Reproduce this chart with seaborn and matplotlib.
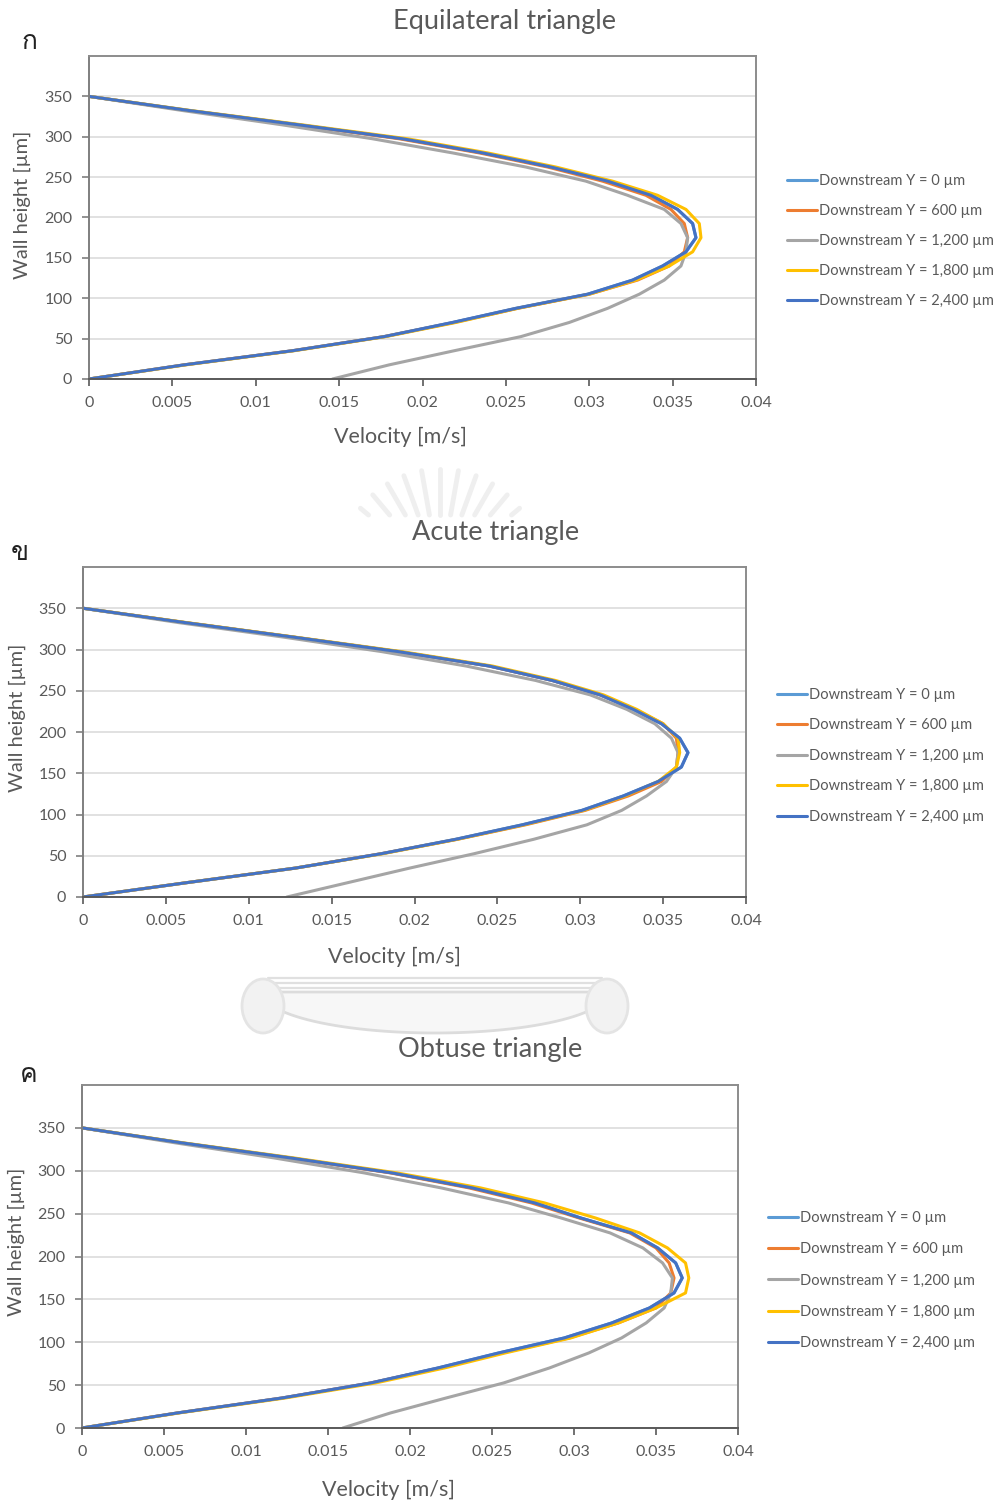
import numpy as np
import pandas as pd
import matplotlib
matplotlib.use("Agg")
import matplotlib.pyplot as plt
from matplotlib import font_manager
from matplotlib.ft2font import FT2Font
from matplotlib.patches import Ellipse, Polygon
from matplotlib.lines import Line2D
import seaborn as sns

# ---- data -------------------------------------------------------------
heights = [0, 17.5, 35, 52.5, 70, 87.5, 105, 122.5, 140, 157.5, 175,
           192.5, 210, 227.5, 245, 262.5, 280, 297.5, 315, 332.5, 350]

series_labels = ["Downstream Y = 0 \u00b5m", "Downstream Y = 600 \u00b5m",
                 "Downstream Y = 1,200 \u00b5m", "Downstream Y = 1,800 \u00b5m",
                 "Downstream Y = 2,400 \u00b5m"]

# Equilateral triangle
eq_y0 = [0, 0.0057, 0.0122, 0.0177, 0.0218, 0.0256, 0.0299, 0.0326, 0.0344, 0.0358, 0.0364,
         0.0362, 0.0353, 0.0337, 0.0311, 0.0277, 0.0236, 0.0188, 0.0125, 0.0060, 0]
eq_y600 = [0, 0.0057, 0.0122, 0.0177, 0.0219, 0.0257, 0.0300, 0.0329, 0.0348, 0.0357, 0.0359,
           0.0357, 0.0349, 0.0334, 0.0308, 0.0275, 0.0234, 0.0186, 0.0124, 0.0059, 0]
eq_y1200 = [0.0146, 0.0180, 0.0219, 0.0259, 0.0288, 0.0311, 0.0330, 0.0345, 0.0355, 0.0358, 0.0359,
            0.0355, 0.0345, 0.0323, 0.0298, 0.0262, 0.0218, 0.0170, 0.0115, 0.0056, 0]
eq_y1800 = [0, 0.0058, 0.0123, 0.0178, 0.0220, 0.0257, 0.0300, 0.0328, 0.0348, 0.0362, 0.0367,
            0.0366, 0.0358, 0.0341, 0.0314, 0.0280, 0.0239, 0.0191, 0.0127, 0.0061, 0]
eq_y2400 = [0, 0.0057, 0.0122, 0.0177, 0.0218, 0.0256, 0.0299, 0.0326, 0.0344, 0.0358, 0.0364,
            0.0362, 0.0353, 0.0337, 0.0311, 0.0277, 0.0236, 0.0188, 0.0125, 0.0060, 0]

# Acute triangle
ac_y0 = [0, 0.0063, 0.0128, 0.0180, 0.0225, 0.0265, 0.0301, 0.0326, 0.0347, 0.0361, 0.0365,
         0.0360, 0.0349, 0.0332, 0.0312, 0.0283, 0.0245, 0.0190, 0.0127, 0.0062, 0]
ac_y600 = [0, 0.0063, 0.0128, 0.0180, 0.0226, 0.0267, 0.0303, 0.0329, 0.0349, 0.0358, 0.0359,
           0.0358, 0.0350, 0.0333, 0.0312, 0.0283, 0.0245, 0.0190, 0.0127, 0.0062, 0]
ac_y1200 = [0.0123, 0.0160, 0.0197, 0.0236, 0.0272, 0.0304, 0.0325, 0.0340, 0.0352, 0.0358, 0.0359,
            0.0355, 0.0345, 0.0328, 0.0306, 0.0273, 0.0231, 0.0180, 0.0121, 0.0058, 0]
ac_y1800 = [0, 0.0063, 0.0128, 0.0181, 0.0226, 0.0266, 0.0302, 0.0327, 0.0347, 0.0358, 0.0360,
            0.0359, 0.0350, 0.0334, 0.0314, 0.0285, 0.0247, 0.0192, 0.0128, 0.0063, 0]
ac_y2400 = [0, 0.0063, 0.0128, 0.0180, 0.0225, 0.0265, 0.0301, 0.0326, 0.0347, 0.0361, 0.0365,
            0.0360, 0.0349, 0.0332, 0.0312, 0.0283, 0.0245, 0.0190, 0.0127, 0.0062, 0]

# Obtuse triangle
ob_y0 = [0, 0.0058, 0.0122, 0.0176, 0.0217, 0.0254, 0.0294, 0.0323, 0.0346, 0.0361, 0.0366,
         0.0362, 0.0351, 0.0335, 0.0304, 0.0276, 0.0238, 0.0189, 0.0127, 0.0061, 0]
ob_y600 = [0, 0.0058, 0.0122, 0.0176, 0.0218, 0.0256, 0.0297, 0.0327, 0.0350, 0.0359, 0.0361,
           0.0358, 0.0350, 0.0334, 0.0303, 0.0274, 0.0236, 0.0188, 0.0126, 0.0060, 0]
ob_y1200 = [0.0159, 0.0188, 0.0222, 0.0257, 0.0285, 0.0309, 0.0329, 0.0344, 0.0355, 0.0359, 0.0360,
            0.0354, 0.0342, 0.0322, 0.0292, 0.0260, 0.0219, 0.0172, 0.0117, 0.0057, 0]
ob_y1800 = [0, 0.0059, 0.0124, 0.0179, 0.0221, 0.0258, 0.0298, 0.0327, 0.0350, 0.0368, 0.0370,
            0.0368, 0.0357, 0.0340, 0.0313, 0.0282, 0.0243, 0.0192, 0.0129, 0.0062, 0]
ob_y2400 = [0, 0.0058, 0.0122, 0.0176, 0.0217, 0.0254, 0.0294, 0.0323, 0.0346, 0.0361, 0.0366,
            0.0362, 0.0351, 0.0335, 0.0304, 0.0276, 0.0238, 0.0189, 0.0127, 0.0061, 0]

panel_titles = ["Equilateral triangle", "Acute triangle", "Obtuse triangle"]
panel_tags = ["\u0e01", "\u0e02", "\u0e04"]
x_ticks = [0, 0.005, 0.01, 0.015, 0.02, 0.025, 0.03, 0.035, 0.04]
x_tick_labels = ["0", "0.005", "0.01", "0.015", "0.02", "0.025", "0.03", "0.035", "0.04"]
y_ticks = [0, 50, 100, 150, 200, 250, 300, 350]

panel_series = [
    [eq_y0, eq_y600, eq_y1200, eq_y1800, eq_y2400],
    [ac_y0, ac_y600, ac_y1200, ac_y1800, ac_y2400],
    [ob_y0, ob_y600, ob_y1200, ob_y1800, ob_y2400],
]

palette = ["#5B9BD5", "#ED7D31", "#A5A5A5", "#FFC000", "#4472C4"]
TEXT = "#595959"

# ---- fonts ------------------------------------------------------------
sns.set_theme(style="white")


def find_font_with(ch):
    for f in font_manager.fontManager.ttflist:
        try:
            ft = FT2Font(f.fname)
            if ft.get_char_index(ord(ch)):
                return f.name
        except Exception:
            continue
    return None


thai_family = find_font_with("\u0e01") or "DejaVu Sans"
plt.rcParams["font.family"] = ["Lato", "DejaVu Sans"]

# ---- figure -----------------------------------------------------------
W, H = 1001, 1504
fig = plt.figure(figsize=(W / 100, H / 100), dpi=100)


def fx(px):
    return px / W


def fy(py):
    return 1 - py / H


# faint seal fragments between the panels
cx, cy = 440, 575
for k in range(11):
    ang = np.deg2rad(140 - k * 10)
    r0, r1 = 60, 100 + 6 * np.sin(ang)
    xa, ya = cx + r0 * np.cos(ang), cy - r0 * np.sin(ang)
    xb, yb = cx + r1 * np.cos(ang), cy - r1 * np.sin(ang)
    if ya > 515:
        t0 = (ya - 515) / (ya - yb)
        xa, ya = xa + (xb - xa) * t0, 515
    if yb < 515:
        fig.add_artist(Line2D([fx(xa), fx(xb)], [fy(ya), fy(yb)], color="#EFEFEF", lw=3.5,
                              solid_capstyle="round", zorder=0))

tt = np.linspace(0, np.pi, 60)
bowl_x = 435 + 173 * np.cos(tt)
bowl_y = 992 + 41 * np.sin(tt)
fig.add_artist(Polygon(np.column_stack([fx(bowl_x), fy(bowl_y)]), closed=True,
                       facecolor="#F7F7F7", edgecolor="#DCDCDC", lw=2, zorder=0))
for yy in (978, 983, 988):
    fig.add_artist(Line2D([fx(268), fx(602)], [fy(yy), fy(yy)], color="#E0E0E0", lw=1.6, zorder=0))
for ox in (263, 607):
    fig.add_artist(Ellipse((fx(ox), fy(1006)), 42 / W, 54 / H, facecolor="#F2F2F2",
                           edgecolor="#E4E4E4", lw=2, zorder=0))

# axes boxes in pixels: left, right, top, bottom
boxes = [(89, 756, 56, 379), (83, 746, 567, 897), (82, 738, 1085, 1428)]
title_pos = [(504, 22), (496, 532), (490, 1050)]
tag_pos = [(29, 42), (20, 553), (29, 1075)]
xlabel_pos = [(401, 437), (394, 957), (389, 1490)]
ylabel_pos = [(22, 205), (17, 718), (16, 1242)]
legend_pos = [(781, 168), (771, 682), (762, 1205)]
legend_spacing = [1.10, 1.13, 1.19]

for i in range(3):
    l, r, t, b = boxes[i]
    ax = fig.add_axes([fx(l), fy(b), (r - l) / W, (b - t) / H])

    frames = []
    for lab, vals in zip(series_labels, panel_series[i]):
        frames.append(pd.DataFrame({"velocity": vals, "height": heights, "series": lab}))
    df = pd.concat(frames, ignore_index=True)

    sns.lineplot(data=df, x="velocity", y="height", hue="series", hue_order=series_labels,
                 palette=palette, sort=False, estimator=None, linewidth=2.2, ax=ax)

    ax.set_xlim(0, 0.04)
    ax.set_ylim(0, 400)
    ax.set_xticks(x_ticks)
    ax.set_xticklabels(x_tick_labels)
    ax.set_yticks(y_ticks)
    ax.set_xlabel("")
    ax.set_ylabel("")
    ax.grid(axis="y", color="#D9D9D9", linewidth=1.1)
    ax.grid(axis="x", visible=False)
    ax.set_axisbelow(True)
    for side in ["top", "right", "left", "bottom"]:
        ax.spines[side].set_color("#8C8C8C")
        ax.spines[side].set_linewidth(1.4)
    ax.spines["left"].set_color("#7F7F7F")
    ax.spines["bottom"].set_color("#595959")
    ax.tick_params(axis="x", bottom=True, length=5, width=1.2, color="#595959",
                   labelsize=11.5, labelcolor=TEXT, pad=7)
    ax.tick_params(axis="y", left=True, length=5, width=1.2, color="#7F7F7F",
                   labelsize=11.5, labelcolor=TEXT, pad=7)

    handles, labels = ax.get_legend_handles_labels()
    ax.legend(handles, labels, loc="upper left",
              bbox_to_anchor=(fx(legend_pos[i][0]), fy(legend_pos[i][1])),
              bbox_transform=fig.transFigure, frameon=False, fontsize=10.5,
              labelcolor=TEXT, handlelength=2.1, handletextpad=0.1,
              labelspacing=legend_spacing[i], borderaxespad=0)

    fig.text(fx(title_pos[i][0]), fy(title_pos[i][1]), panel_titles[i], ha="center",
             va="center", fontsize=19.5, color=TEXT)
    fig.text(fx(tag_pos[i][0]), fy(tag_pos[i][1]), panel_tags[i], ha="center",
             va="center", fontsize=19, color="#222222", family=[thai_family, "DejaVu Sans"])
    fig.text(fx(xlabel_pos[i][0]), fy(xlabel_pos[i][1]), "Velocity [m/s]", ha="center",
             va="center", fontsize=15.5, color=TEXT)
    fig.text(fx(ylabel_pos[i][0]), fy(ylabel_pos[i][1]), "Wall height [\u00b5m]", ha="center",
             va="center", rotation=90, fontsize=14.5, color=TEXT)

fig.savefig("out.png", dpi=100)
